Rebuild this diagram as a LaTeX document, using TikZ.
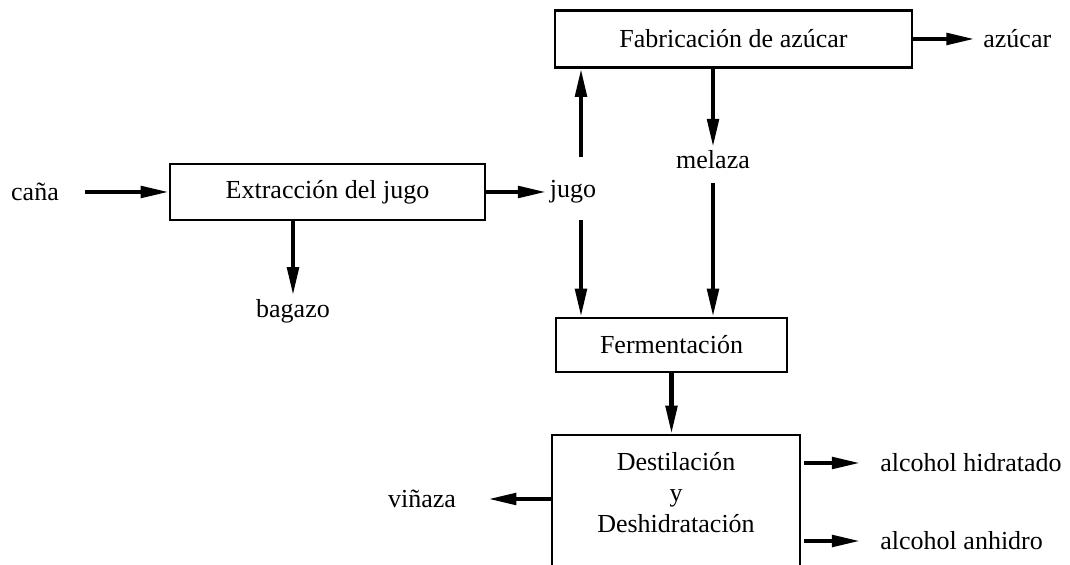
\documentclass[tikz,border=0pt]{standalone}
\usepackage{fontspec}
\setmainfont{Liberation Serif}
\usetikzlibrary{positioning,calc,arrows.meta}

\begin{document}
\begin{tikzpicture}[
    box/.style={draw, line width=1.4pt, inner sep=0pt},
    flow/.style={line width=2.3pt, -{Triangle[length=16pt,width=6.5pt]}},
    lbl/.style={inner sep=2pt},
    font=\fontsize{14.8}{17.6}\selectfont]
    \useasboundingbox (0,0) rectangle (21.4,11.3);
    \clip (0,0) rectangle (21.4,11.3);

    % Process boxes
    \node[box, minimum width=6.3cm, minimum height=1.12cm] (extr) at (6.55,7.46) {Extracción del jugo};
    \node[box, minimum width=7.14cm, minimum height=1.14cm] (fab) at (14.67,10.52) {Fabricación de azúcar};
    \node[box, minimum width=4.62cm, minimum height=1.08cm] (ferm) at (13.43,4.4) {Fermentación};
    \node[box, minimum width=4.96cm, minimum height=4.1cm] (dest) at (13.52,0.55) {};
    \node[align=center] (desttxt) at (13.52,1.44) {Destilación\\y\\Deshidratación};

    % Streams
    \node[lbl] (cana) at (0.7,7.46) {caña};
    \node[lbl, anchor=west] (jugo) at (10.92,7.46) {jugo};
    \node[lbl] (bag) at (5.86,5.08) {bagazo};
    \node[lbl, anchor=west] (azu) at (19.59,10.52) {azúcar};
    \node[lbl] (mel) at (14.26,8.1) {melaza};
    \node[lbl, anchor=west] (hid) at (17.53,2.04) {alcohol hidratado};
    \node[lbl, anchor=west] (anh) at (17.53,0.48) {alcohol anhidro};
    \node[lbl] (vin) at (8.44,1.32) {viñaza};

    % Arrows
    \draw[flow, shorten <=0.45cm] (cana) -- (extr);
    \draw[flow] (extr.east) -- (jugo.west);
    \draw[flow] (extr.south -| bag) -- (bag.north);
    \draw[flow, shorten <=0.4cm] ([xshift=0.16cm]jugo.north) -- ([xshift=0.16cm]jugo.north |- fab.south);
    \draw[flow, shorten <=0.25cm] ([xshift=0.16cm]jugo.south) -- ([xshift=0.16cm]jugo.south |- ferm.north);
    \draw[flow, shorten >=0.1cm] (fab.east) -- (azu.west);
    \draw[flow] (fab.south -| mel) -- (mel.north);
    \draw[flow, shorten <=0.2cm] (mel.south) -- (mel |- ferm.north);
    \draw[flow] (ferm.south) -- (ferm.south |- dest.north);
    \draw[flow, shorten <=0.06cm, shorten >=0.33cm] (dest.east |- hid) -- (hid.west);
    \draw[flow, shorten <=0.06cm, shorten >=0.33cm] (dest.east |- anh) -- (anh.west);
    \draw[flow, shorten >=0.57cm] (dest.west |- vin) -- (vin.east);
\end{tikzpicture}
\end{document}
